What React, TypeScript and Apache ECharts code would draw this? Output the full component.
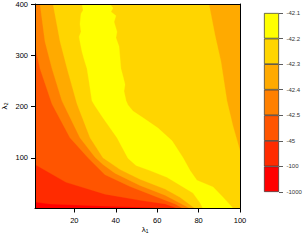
import React, { useEffect, useRef } from 'react';
import * as echarts from 'echarts';

type Pt = [number, number];

const xTicks = [20, 40, 60, 80, 100];
const yTicks = [100, 200, 300, 400];
const levelLabels = ['-1000', '-100', '-45', '-42.5', '-42.4', '-42.3', '-42.2', '-42.1'];
const levelColors = ['#FF0000', '#FF2B00', '#FF5500', '#FF8000', '#FFAA00', '#FFD500', '#FFFF00'];

// contour lines (lambda1, lambda2)
const edge100: Pt[] = [[1, 13.5], [8.2, 9.7], [32.4, 5.8], [56.5, 2.9], [61.4, 1]];
const edge45: Pt[] = [[1, 87], [16, 52], [34.8, 29], [51.7, 17], [63.8, 10], [70, 1]];
const edge425: Pt[] = [[1, 317], [3.4, 274], [9.2, 205], [17.9, 139], [26.6, 100], [34.8, 67], [46.9, 44], [58.9, 25], [68.6, 10], [72.5, 1]];
const edge424: Pt[] = [[3.4, 400], [5.8, 327], [9.2, 274], [14, 211], [22.7, 139], [30, 101], [33.8, 87], [39.6, 70], [51.7, 46], [63.8, 27], [75.9, 1]];
const edge423: Pt[] = [[9.7, 400], [13.1, 327], [16.5, 274], [21.3, 205], [27.6, 139], [33.8, 100], [42.1, 77], [51.7, 58], [63.8, 39], [71, 23], [78.3, 1]];
const edge423Right: Pt[] = [[100, 114], [96.6, 162], [93.7, 211], [90.8, 288], [87.9, 340], [85, 400]];
const edge422: Pt[] = [
  [23.7, 400], [24.2, 388], [23.2, 381], [22.7, 361], [23.2, 346], [22.3, 336], [22.7, 327], [23.7, 307],
  [24.7, 292], [26.1, 274], [27.1, 249], [28.5, 211], [30, 201], [33.8, 178], [40.6, 139], [45.9, 99],
  [49.8, 85], [56.5, 75], [64.7, 62], [72.5, 43], [77.3, 31], [80.7, 12], [82.1, 1], [96.6, 1], [96.1, 4],
  [91.8, 23], [87, 43], [79.2, 56], [75.9, 75], [72.5, 100], [67.2, 133], [60.4, 158], [53.2, 178],
  [48.3, 191], [45.9, 203], [45, 211], [44, 230], [44.5, 243], [43.5, 259], [42.5, 274], [42, 298],
  [41.6, 317], [40.1, 334], [40.6, 346], [39.2, 365], [40.1, 377], [37.7, 385], [38.7, 392], [37.2, 400],
];

const corner: Pt[] = [[100, 1], [100, 400], [1, 400]];
const regions: { level: number; pts: Pt[] }[] = [
  { level: 0, pts: [[1, 1], [100, 1], [100, 400], [1, 400]] },
  { level: 1, pts: [...edge100, ...corner] },
  { level: 2, pts: [...edge45, ...corner] },
  { level: 3, pts: [...edge425, ...corner] },
  { level: 4, pts: [...edge424, [100, 1], [100, 400]] },
  { level: 5, pts: [...edge423, [100, 1], ...edge423Right] },
  { level: 6, pts: edge422 },
];

const FONT = '"Liberation Sans", Arial, Helvetica, sans-serif';

export default function App() {
  const ref = useRef<HTMLDivElement>(null);
  useEffect(() => {
    if (!ref.current) return;
    const chart = echarts.init(ref.current, null, { renderer: 'svg' });
    const option: any = {
      animation: false,
      grid: [
        { left: 35, top: 2, width: 205, height: 206.5, show: false },
        { left: 264, top: 13, width: 15, height: 179, show: false },
      ],
      xAxis: [
        {
          type: 'value', gridIndex: 0, min: 1, max: 100, z: 5,
          axisLine: { show: true, lineStyle: { color: '#000', width: 1 } },
          axisTick: { show: true, length: 4, customValues: xTicks, lineStyle: { color: '#000' } },
          axisLabel: { customValues: xTicks, fontSize: 7.5, color: '#000', margin: 8, fontFamily: FONT },
          splitLine: { show: false },
        },
        {
          type: 'value', gridIndex: 0, min: 1, max: 100, position: 'top', z: 5,
          axisLine: { show: true, lineStyle: { color: '#000', width: 1 } },
          axisTick: { show: false }, axisLabel: { show: false }, splitLine: { show: false },
        },
        { type: 'category', gridIndex: 1, data: ['key'], show: false },
      ],
      yAxis: [
        {
          type: 'value', gridIndex: 0, min: 1, max: 400, z: 5,
          axisLine: { show: true, lineStyle: { color: '#000', width: 1 } },
          axisTick: { show: true, length: 4, customValues: yTicks, lineStyle: { color: '#000' } },
          axisLabel: { customValues: yTicks, fontSize: 7.5, color: '#000', margin: 7, fontFamily: FONT },
          splitLine: { show: false },
        },
        {
          type: 'value', gridIndex: 0, min: 1, max: 400, position: 'right', z: 5,
          axisLine: { show: true, lineStyle: { color: '#000', width: 1 } },
          axisTick: { show: false }, axisLabel: { show: false }, splitLine: { show: false },
        },
        {
          type: 'value', gridIndex: 1, min: 0, max: 7, interval: 1, position: 'right', z: 5,
          axisLine: { show: false },
          axisTick: { show: true, length: 4, lineStyle: { color: '#333', width: 0.8 } },
          axisLabel: {
            fontSize: 6, color: '#333', margin: 7.5, fontFamily: FONT,
            formatter: (v: number) => levelLabels[Math.round(v)],
          },
          splitLine: { show: false },
        },
      ],
      series: [
        {
          type: 'custom', xAxisIndex: 0, yAxisIndex: 0, silent: true, clip: true,
          data: regions.map((_, i) => [50, 200, i]),
          encode: { x: 0, y: 1 },
          renderItem: (params: any, api: any) => {
            const r = regions[params.dataIndex];
            const c = levelColors[r.level];
            return {
              type: 'polygon',
              shape: { points: r.pts.map((p) => api.coord(p)) },
              style: { fill: c, stroke: c, lineWidth: 0.3 },
            };
          },
        },
        ...levelColors.map((c) => ({
          type: 'bar', xAxisIndex: 2, yAxisIndex: 2, stack: 'key', silent: true,
          barWidth: '100%', barCategoryGap: 0,
          data: [1],
          itemStyle: { color: c, borderColor: '#333', borderWidth: 0.7 },
        })),
      ],
      graphic: [
        { type: 'text', x: 145, y: 229, style: { text: 'λ₁', fontSize: 8, fill: '#000', align: 'center', verticalAlign: 'middle', fontFamily: FONT } },
        { type: 'text', x: 4.5, y: 106, rotation: Math.PI / 2, style: { text: 'λ₂', fontSize: 8, fill: '#000', align: 'center', verticalAlign: 'middle', fontFamily: FONT } },
      ],
    };
    chart.setOption(option);
    return () => chart.dispose();
  }, []);
  return <div ref={ref} style={{ position: 'fixed', left: 0, top: 0, width: 308, height: 243, background: '#fff' }} />;
}
